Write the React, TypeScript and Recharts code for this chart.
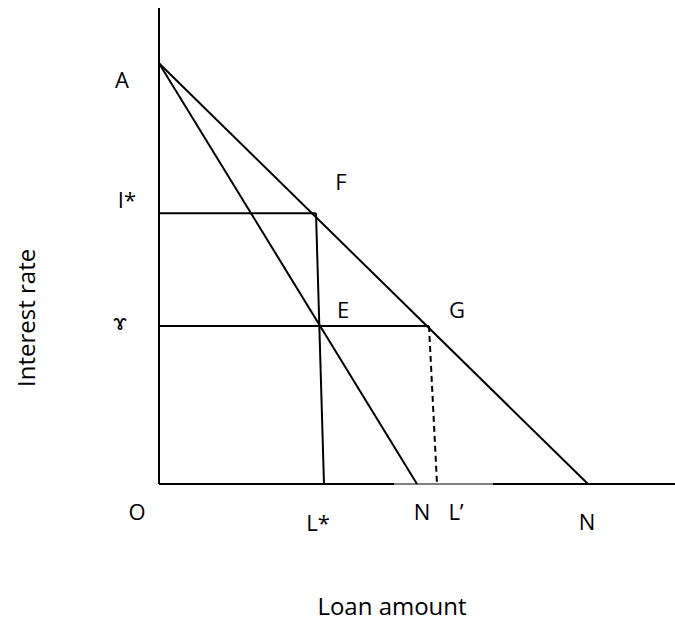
import React from 'react';
import { ComposedChart, Line, Scatter, XAxis, YAxis } from 'recharts';

// demand curves and the two rate levels
const outerDemand = [
  { x: 0, y: 8.84 },
  { x: 8.58, y: 0 },
];
const innerDemand = [
  { x: 0, y: 8.84 },
  { x: 5.16, y: 0 },
];
const rateIStar = [
  { x: 0, y: 5.69 },
  { x: 3.14, y: 5.69 },
];
const rateGamma = [
  { x: 0, y: 3.32 },
  { x: 5.4, y: 3.32 },
];
const lStarDrop = [
  { x: 3.14, y: 5.69 },
  { x: 3.3, y: 0 },
];
const lPrimeDrop = [
  { x: 5.4, y: 3.32 },
  { x: 5.56, y: 0 },
];

// axes
const yAxisLine = [
  { x: 0, y: 0 },
  { x: 0, y: 10 },
];
const xAxisLeft = [
  { x: 0, y: 0 },
  { x: 4.7, y: 0 },
];
const xAxisMid = [
  { x: 4.7, y: 0 },
  { x: 6.68, y: 0 },
];
const xAxisRight = [
  { x: 6.68, y: 0 },
  { x: 10.32, y: 0 },
];

const pointLabels = [
  { x: -0.74, y: 8.32, text: 'A' },
  { x: -0.64, y: 5.8, text: 'I*' },
  { x: -0.78, y: 3.24, text: 'ɤ' },
  { x: 3.64, y: 6.18, text: 'F' },
  { x: 3.68, y: 3.49, text: 'E' },
  { x: 5.96, y: 3.49, text: 'G' },
  { x: -0.44, y: -0.76, text: 'O' },
  { x: 3.18, y: -0.99, text: 'L*' },
  { x: 5.26, y: -0.76, text: 'N' },
  { x: 5.94, y: -0.76, text: 'L’' },
  { x: 8.56, y: -0.97, text: 'N' },
];
const xTitle = [{ x: 4.66, y: -2.75, text: 'Loan amount' }];
const yTitle = [{ x: -2.48, y: 3.49, text: 'Interest rate' }];

const font = '"Open Sans", sans-serif';

const seg = (data: { x: number; y: number }[], key: string, width = 2, dash?: string) => (
  <Line
    key={key}
    data={data}
    dataKey="y"
    type="linear"
    stroke="#000"
    strokeWidth={width}
    strokeDasharray={dash}
    dot={false}
    activeDot={false}
    isAnimationActive={false}
  />
);

const LabelShape = (props: any) => (
  <text x={props.cx} y={props.cy} textAnchor="middle" fontFamily={font} fontSize={22} fill="#000">
    {props.payload.text}
  </text>
);

const XTitleShape = (props: any) => (
  <text x={props.cx} y={props.cy} textAnchor="middle" fontFamily={font} fontSize={24} fill="#000">
    {props.payload.text}
  </text>
);

const YTitleShape = (props: any) => (
  <text
    x={props.cx}
    y={props.cy}
    transform={`rotate(-90 ${props.cx} ${props.cy})`}
    textAnchor="middle"
    fontFamily={font}
    fontSize={24}
    fill="#000"
  >
    {props.payload.text}
  </text>
);

const App: React.FC = () => (
  <div style={{ position: 'absolute', left: 0, top: 0, background: '#fff' }}>
    <ComposedChart width={675} height={623} margin={{ top: 0, right: 0, bottom: 0, left: 0 }}>
      <XAxis type="number" dataKey="x" domain={[-3.18, 10.32]} allowDataOverflow hide />
      <YAxis type="number" dataKey="y" domain={[-2.92, 10.168]} allowDataOverflow hide />
      {seg(yAxisLine, 'yaxis')}
      {seg(xAxisLeft, 'xl')}
      {seg(xAxisMid, 'xm', 1)}
      {seg(xAxisRight, 'xr')}
      {seg(outerDemand, 'outer')}
      {seg(innerDemand, 'inner')}
      {seg(rateIStar, 'istar')}
      {seg(rateGamma, 'gamma')}
      {seg(lStarDrop, 'lstar')}
      {seg(lPrimeDrop, 'lprime', 2, '6 4')}
      <Scatter data={pointLabels} shape={LabelShape} isAnimationActive={false} />
      <Scatter data={xTitle} shape={XTitleShape} isAnimationActive={false} />
      <Scatter data={yTitle} shape={YTitleShape} isAnimationActive={false} />
    </ComposedChart>
  </div>
);

export default App;
